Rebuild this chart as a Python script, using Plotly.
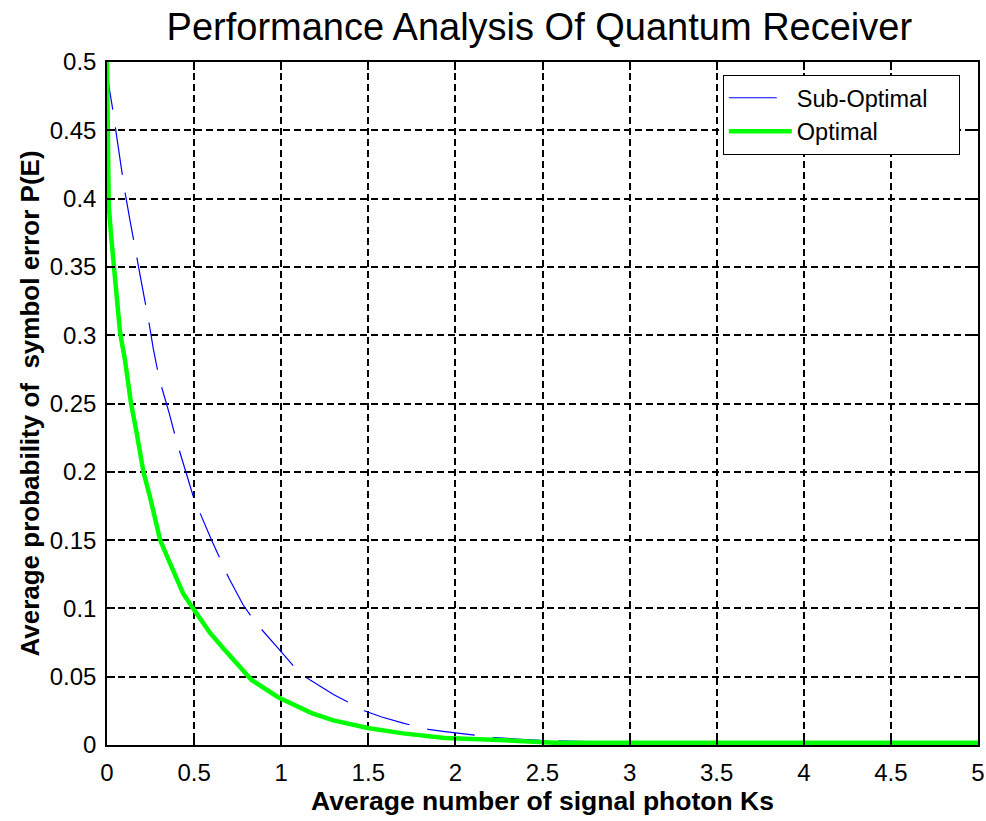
import plotly.graph_objects as go

# Sub-optimal receiver (blue dashed)
x_sub = [0, 0.01, 0.032, 0.05, 0.071, 0.1, 0.132, 0.165, 0.2, 0.24, 0.266, 0.3, 0.357, 0.4,
         0.46, 0.5, 0.6, 0.7, 0.782, 0.85, 0.983, 1.074, 1.137, 1.3, 1.477, 1.573, 1.7, 1.845,
         1.94, 2.1, 2.214, 2.35, 2.5, 3.0, 3.5, 4.0, 4.5, 5.0]
y_sub = [0.5, 0.483, 0.466, 0.45, 0.431, 0.407, 0.384, 0.36, 0.337, 0.31, 0.29, 0.268, 0.243, 0.222,
         0.196, 0.18, 0.15, 0.122, 0.1025, 0.09, 0.0708, 0.0573, 0.05, 0.037, 0.0251, 0.0207, 0.016, 0.0115,
         0.0098, 0.0072, 0.0056, 0.0044, 0.0034, 0.0016, 0.0008, 0.0004, 0.0002, 0.0001]

# Optimal receiver (green solid)
x_opt = [0, 0.004, 0.01, 0.024, 0.033, 0.05, 0.075, 0.103, 0.138, 0.171, 0.209, 0.247, 0.305, 0.362,
         0.437, 0.494, 0.592, 0.666, 0.75, 0.83, 0.982, 1.175, 1.3, 1.497, 1.7, 1.94, 2.25, 2.54,
         2.57, 3.0, 3.5, 4.0, 4.5, 5.0]
y_opt = [0.5, 0.417, 0.395, 0.372, 0.359, 0.335, 0.302, 0.282, 0.25, 0.228, 0.2, 0.1815, 0.15, 0.133,
         0.111, 0.1, 0.082, 0.071, 0.059, 0.0476, 0.035, 0.0234, 0.018, 0.0124, 0.0085, 0.0051, 0.0037, 0.0025,
         0.0017, 0.0017, 0.0017, 0.0017, 0.0017, 0.0017]

x_ticks = [0, 0.5, 1, 1.5, 2, 2.5, 3, 3.5, 4, 4.5, 5]
x_tick_labels = ["0", "0.5", "1", "1.5", "2", "2.5", "3", "3.5", "4", "4.5", "5"]
y_ticks = [0, 0.05, 0.1, 0.15, 0.2, 0.25, 0.3, 0.35, 0.4, 0.45, 0.5]
y_tick_labels = ["0", "0.05", "0.1", "0.15", "0.2", "0.25", "0.3", "0.35", "0.4", "0.45", "0.5"]

FONT = "Liberation Sans, Arial, Helvetica, sans-serif"
PAD = "\u00a0" * 4

fig = go.Figure()
fig.add_trace(go.Scatter(x=x_sub, y=y_sub, mode="lines", name="Sub-Optimal" + PAD,
                         line=dict(color="rgb(0,0,255)", width=1.2, dash="48px,18px")))
fig.add_trace(go.Scatter(x=x_opt, y=y_opt, mode="lines", name="Optimal",
                         line=dict(color="rgb(0,255,0)", width=4.5)))

axis_common = dict(
    showline=True, linecolor="black", linewidth=1.5, mirror="ticks",
    ticks="inside", ticklen=8, tickcolor="black", tickwidth=1.5,
    showgrid=True, gridcolor="black", gridwidth=1.5, griddash="7px,4px",
    zeroline=False, automargin=False,
    tickfont=dict(family=FONT, size=24, color="black"),
)

fig.update_xaxes(range=[0, 5], tickvals=x_ticks, ticktext=x_tick_labels,
                 ticklabelstandoff=5,
                 title=dict(text="<b>Average number of signal photon Ks</b>",
                            font=dict(family=FONT, size=26.5, color="black"), standoff=3),
                 **axis_common)
fig.update_yaxes(range=[0, 0.5], tickvals=y_ticks, ticktext=y_tick_labels,
                 ticklabelstandoff=4,
                 title=dict(text="<b>Average probability of  symbol error P(E)</b>",
                            font=dict(family=FONT, size=26, color="black"), standoff=3),
                 **axis_common)

fig.update_layout(
    width=986, height=821,
    margin=dict(l=107, r=8, t=62, b=76),
    paper_bgcolor="white", plot_bgcolor="white",
    title=dict(text="Performance Analysis Of Quantum Receiver", x=0.547, xanchor="center",
               y=0.968, yanchor="middle",
               font=dict(family=FONT, size=38, color="black")),
    legend=dict(x=0.707, y=0.981, xanchor="left", yanchor="top",
                bgcolor="white", bordercolor="black", borderwidth=1,
                font=dict(family=FONT, size=23.5, color="black"),
                itemwidth=63, tracegroupgap=0),
    showlegend=True,
)

fig.write_html("out.html")
